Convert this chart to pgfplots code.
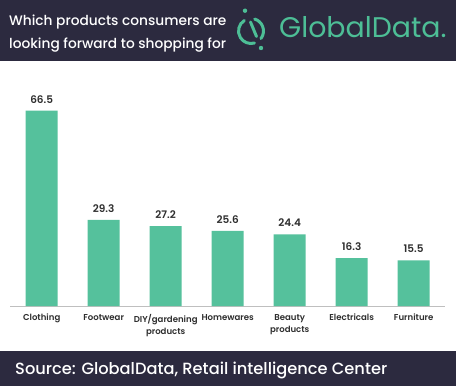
\documentclass[border=0pt]{standalone}
\usepackage{fontspec}
\setmainfont{Poppins}
\newfontfamily\pmed{Poppins}[UprightFont=* Medium, BoldFont=* SemiBold]
\usepackage{pgfplots}
\pgfplotsset{compat=1.18}
\definecolor{hdr}{HTML}{2C2A3F}
\definecolor{tealc}{HTML}{4DBE96}
\definecolor{barc}{HTML}{55C19C}
\definecolor{lbl}{HTML}{2E2E2E}
\begin{document}
\begin{tikzpicture}[x=1bp,y=1bp]
\useasboundingbox (0,0) rectangle (456,386);
\fill[white] (0,0) rectangle (456,386);
\fill[hdr] (0,325) rectangle (456,386);
\fill[hdr] (0,0) rectangle (456,35);
\node[anchor=base west, text=white, inner sep=0, font=\pmed\fontsize{13.8}{15}\selectfont] at (9,361) {Which products consumers are};
\node[anchor=base west, text=white, inner sep=0, font=\pmed\fontsize{13.8}{15}\selectfont] at (9,338) {looking forward to shopping for};
% logo icon
\begin{scope}[tealc, line width=3bp, line cap=round]
\draw (251,355) ++(122:12.5) arc (122:286:12.5);
\draw (251,355) ++(-37:12.5) arc (-37:73:12.5);
\draw (250.5,364) -- (256.5,349.5);
\fill (245,375.3) circle (2.2);
\fill (261,338) circle (2.2);
\end{scope}
\node[anchor=base west, text=tealc, inner sep=0, font=\fontsize{28.5}{30}\selectfont] at (279,349) {GlobalData.};
\node[anchor=base west, text=white, inner sep=0, font=\pmed\fontsize{16.3}{20}\selectfont] at (15,12) {Source: GlobalData, Retail intelligence Center};
\begin{axis}[
  at={(10bp,80bp)}, anchor=south west,
  scale only axis, width=435bp, height=205.6bp,
  xmin=-0.511, xmax=6.505, ymin=0, ymax=70,
  axis x line*=bottom, axis y line=none,
  x axis line style={draw=black!25, line width=0.8bp, -},
  xtick={0,1,2,3,4,5,6},
  xticklabels={Clothing, Footwear, {DIY/gardening\\products}, Homewares, {Beauty\\products}, Electricals, Furniture},
  major tick length=0pt,
  xticklabel style={font=\pmed\bfseries\fontsize{8.6}{12.7}\selectfont, text=lbl, align=center, anchor=north, yshift=-4.5bp},
  ybar, bar width=32bp,
  nodes near coords,
  nodes near coords style={font=\pmed\bfseries\fontsize{10.5}{12}\selectfont, text=lbl, yshift=4bp},
  /pgf/number format/assume math mode=true,
  /pgf/number format/.cd, fixed, precision=1, fixed zerofill,
]
\addplot[fill=barc, draw=none] coordinates {(0,66.5) (1,29.3) (2,27.2) (3,25.6) (4,24.4) (5,16.3) (6,15.5)};
\end{axis}
\end{tikzpicture}
\end{document}
